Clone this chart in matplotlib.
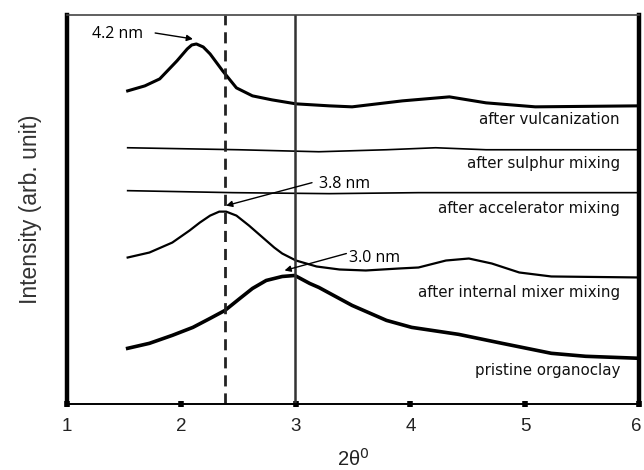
import matplotlib
matplotlib.use('Agg')
import matplotlib.pyplot as plt
import matplotlib.transforms as mtransforms

# 2theta (deg) / intensity (arb.)
vulc_x = [1.53, 1.68, 1.81, 1.96, 2.05, 2.09, 2.13, 2.19, 2.25, 2.36, 2.48, 2.62, 2.79, 3.00,
          3.29, 3.49, 3.93, 4.34, 4.66, 5.09, 6.0]
vulc_y = [314, 319, 326, 344, 356, 360, 361, 358, 351, 334, 317, 309, 305, 301,
          299, 298, 304, 308, 302, 298, 299]

sulph_x = [1.53, 2.5, 3.2, 3.79, 4.22, 4.66, 6.0]
sulph_y = [257, 255, 253, 255, 257, 255, 255]

accel_x = [1.53, 2.45, 3.29, 4.07, 6.0]
accel_y = [214, 212, 211, 212, 212]

mixer_x = [1.53, 1.72, 1.92, 2.07, 2.16, 2.25, 2.33, 2.39, 2.48, 2.59, 2.67, 2.74, 2.81, 2.88,
           3.00, 3.18, 3.38, 3.61, 3.90, 4.07, 4.31, 4.51, 4.71, 4.95, 5.23, 6.0]
mixer_y = [147, 152, 162, 174, 182, 189, 193, 193, 189, 179, 171, 164, 157, 151,
           144, 138, 135, 134, 136, 137, 144, 146, 141, 132, 128, 127]

clay_x = [1.53, 1.72, 1.92, 2.10, 2.25, 2.38, 2.51, 2.62, 2.74, 2.88, 2.99, 3.12, 3.20,
          3.49, 3.79, 4.01, 4.42, 4.80, 5.23, 5.53, 6.0]
clay_y = [56, 61, 69, 77, 86, 94, 106, 116, 124, 128, 129, 121, 117,
          99, 84, 77, 70, 61, 51, 48, 46]

labels = ['after vulcanization', 'after sulphur mixing', 'after accelerator mixing',
          'after internal mixer mixing', 'pristine organoclay']
label_y = [285, 241, 196, 112, 34]

# d-spacing notes: text, text position, arrow tail, arrow head
notes = ['4.2 nm', '3.8 nm', '3.0 nm']
note_xy = [(1.44, 371), (3.42, 221), (3.69, 147)]
tail_xy = [(1.77, 372), (3.14, 222), (3.44, 151)]
head_xy = [(2.10, 366), (2.39, 199), (2.90, 134)]

dashed_pos = 2.38
solid_pos = 2.99

xticks = [1, 2, 3, 4, 5, 6]

fig = plt.figure(figsize=(6.44, 4.70), dpi=100)
ax = fig.add_axes([0.104, 0.140, 0.889, 0.828])

ax.plot(vulc_x, vulc_y, color='black', lw=2.2)
ax.plot(sulph_x, sulph_y, color='black', lw=1.2)
ax.plot(accel_x, accel_y, color='black', lw=1.2)
ax.plot(mixer_x, mixer_y, color='black', lw=1.6)
ax.plot(clay_x, clay_y, color='black', lw=2.6)

ax.axvline(dashed_pos, color='#222222', lw=2.0, ls=(0, (4, 2.5)))
ax.axvline(solid_pos, color='#333333', lw=1.8)

for txt, yy in zip(labels, label_y):
    ax.text(5.83, yy, txt, ha='right', va='center', fontsize=10.8,
            family='DejaVu Sans', color='#111111')

for txt, pos, tail, head in zip(notes, note_xy, tail_xy, head_xy):
    ax.text(pos[0], pos[1], txt, ha='center', va='center', fontsize=11.5,
            family='Open Sans', color='black')
    ax.annotate('', xy=head, xytext=tail,
                arrowprops=dict(arrowstyle='-|>', color='black', lw=1.0,
                                mutation_scale=9, shrinkA=0, shrinkB=0))

ax.set_xlim(1, 6)
ax.set_ylim(0, 390)
ax.set_xticks(xticks)
ax.set_xticklabels([str(t) for t in xticks], fontsize=13.5, family='Liberation Sans',
                   color='#222222')
ax.set_yticks([])
ax.tick_params(axis='x', direction='inout', length=4, width=4, pad=8)
last = ax.get_xticklabels()[-1]
last.set_transform(last.get_transform() + mtransforms.ScaledTranslation(-3 / 100, 0, fig.dpi_scale_trans))

ax.spines['left'].set_linewidth(3.2)
ax.spines['right'].set_linewidth(3.2)
ax.spines['top'].set_linewidth(1.2)
ax.spines['top'].set_color('#444444')
ax.spines['bottom'].set_linewidth(1.4)

ax.set_xlabel(r'2θ$^{\mathsf{0}}$', fontsize=14.5, family='Liberation Sans', labelpad=9,
              color='#222222')
ax.set_ylabel('Intensity (arb. unit)', fontsize=16.5, family='Liberation Sans',
              labelpad=18, color='#333333')

fig.savefig('out.png', dpi=100)
